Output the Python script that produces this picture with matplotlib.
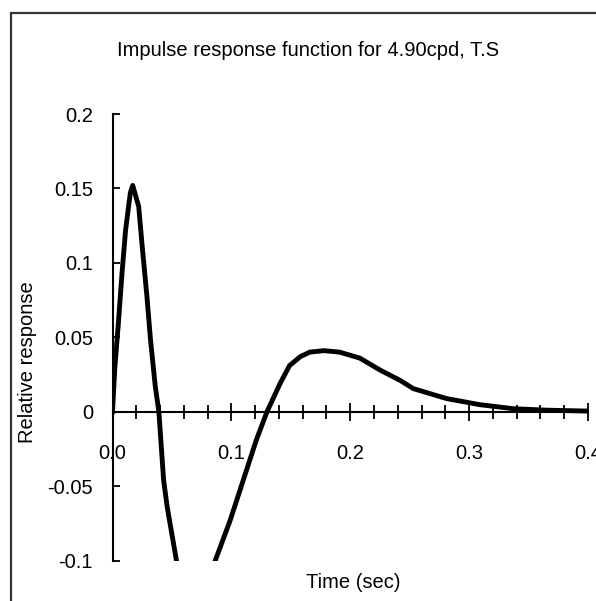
import matplotlib
matplotlib.use('Agg')
import matplotlib.pyplot as plt
from matplotlib import font_manager
from matplotlib.patches import Rectangle
from matplotlib.ticker import MultipleLocator, FixedLocator, FuncFormatter

########################################################################################################################
## impulse response values (time in sec, relative response)
########################################################################################################################
time_sec = [0.000, 0.002, 0.005, 0.008, 0.011, 0.015, 0.017, 0.022, 0.025, 0.029, 0.032, 0.036, 0.039,
            0.043, 0.046, 0.054, 0.062, 0.070, 0.078, 0.086, 0.099, 0.110, 0.121, 0.130,
            0.141, 0.149, 0.158, 0.166, 0.178, 0.191, 0.208, 0.225, 0.242, 0.253, 0.281, 0.309,
            0.337, 0.365, 0.400]
response = [0.000, 0.030, 0.060, 0.093, 0.122, 0.147, 0.152, 0.138, 0.111, 0.077, 0.048, 0.017, 0.000,
            -0.046, -0.064, -0.101, -0.125, -0.130, -0.122, -0.101, -0.073, -0.046, -0.019, 0.000,
            0.019, 0.031, 0.037, 0.040, 0.041, 0.040, 0.036, 0.028, 0.021, 0.0155, 0.0088, 0.0047,
            0.002, 0.001, 0.0004]

x_ticks = [0.0, 0.1, 0.2, 0.3, 0.4]
y_ticks = [-0.1, -0.05, 0, 0.05, 0.1, 0.15, 0.2]
y_tick_labels = ['-0.1', '-0.05', '0', '0.05', '0.1', '0.15', '0.2']

title = 'Impulse response function for 4.90cpd, T.S'
x_label = 'Time (sec)'
y_label = 'Relative response'

## font: narrow sans if installed
names = {f.name for f in font_manager.fontManager.ttflist}
font = 'Liberation Sans Narrow' if 'Liberation Sans Narrow' in names else 'Liberation Sans'
plt.rcParams['font.family'] = [font, 'DejaVu Sans']

fig = plt.figure(figsize=(5.96, 6.01), dpi=100, facecolor='w')
ax = fig.add_axes([112.5 / 596, 40.5 / 601, 475.5 / 596, 446.5 / 601])

ax.plot(time_sec, response, '-', color='k', lw=3.5, solid_joinstyle='round')

ax.set_xlim(0, 0.4)
ax.set_ylim(-0.1, 0.2)

# axis lines: y on the left, x crossing at zero
for s in ['top', 'right']:
    ax.spines[s].set_visible(False)
ax.spines['bottom'].set_position(('data', 0))
ax.spines['left'].set_linewidth(1.5)
ax.spines['bottom'].set_linewidth(1.5)

ax.xaxis.set_major_locator(FixedLocator(x_ticks))
ax.xaxis.set_minor_locator(MultipleLocator(0.02))
ax.xaxis.set_major_formatter(FuncFormatter(lambda v, p: '%.1f' % v))
ax.tick_params(axis='x', which='major', direction='inout', length=13, width=1.3, pad=17, labelsize=14.5)
ax.tick_params(axis='x', which='minor', direction='inout', length=9.5, width=1.3)

ax.set_yticks(y_ticks)
ax.set_yticklabels(y_tick_labels)
ax.tick_params(axis='y', direction='in', length=5, width=1.3, pad=14, labelsize=14.5)

fig.text(308 / 596, 1 - 50 / 601, title, ha='center', va='center', fontsize=14.5)
fig.text(353 / 596, 1 - 583 / 601, x_label, ha='center', va='center', fontsize=14.5)
fig.text(28 / 596, 1 - 362 / 601, y_label, ha='center', va='center', rotation=90, fontsize=14.5)

# chart border (only top and left edges fall inside the picture)
fig.add_artist(Rectangle((11 / 596, -0.1), 1.2, 1.1 - 13 / 601, transform=fig.transFigure,
                         fill=False, lw=1.6, ec='#333333', clip_on=False))

fig.savefig('out.png', dpi=100, facecolor='w')
